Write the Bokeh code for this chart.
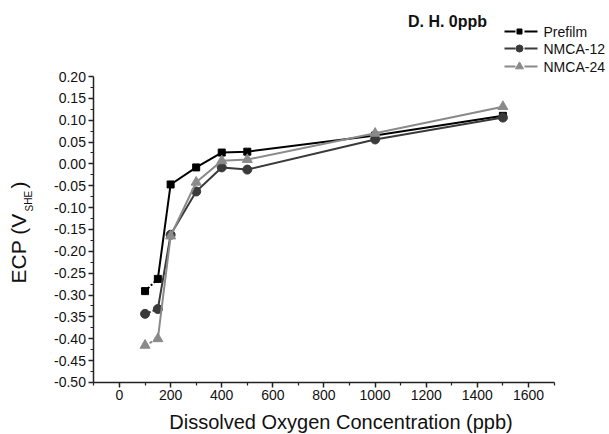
from bokeh.plotting import figure
from bokeh.models import FixedTicker, NumeralTickFormatter, Range1d
from bokeh.core.properties import value
from bokeh.embed import file_html
from bokeh.resources import INLINE

# ---- data ----
do_ppb = [100, 150, 200, 300, 400, 500, 1000, 1500]
prefilm = [-0.291, -0.263, -0.047, -0.008, 0.026, 0.028, 0.065, 0.110]
nmca12 = [-0.343, -0.332, -0.162, -0.063, -0.008, -0.013, 0.056, 0.106]
nmca24 = [-0.415, -0.400, -0.165, -0.042, 0.007, 0.010, 0.070, 0.131]
series_names = ["Prefilm", "NMCA-12", "NMCA-24"]
x_major = [0, 200, 400, 600, 800, 1000, 1200, 1400, 1600]
x_minor = [-100, 100, 300, 500, 700, 900, 1100, 1300, 1500, 1700]
y_major = [-0.50, -0.45, -0.40, -0.35, -0.30, -0.25, -0.20, -0.15, -0.10, -0.05,
           0.00, 0.05, 0.10, 0.15, 0.20]
y_minor = [-0.475, -0.425, -0.375, -0.325, -0.275, -0.225, -0.175, -0.125,
           -0.075, -0.025, 0.025, 0.075, 0.125, 0.175]

FONT = "Liberation Sans"
colors = ["#000000", "#3a3a3a", "#8a8a8a"]
markers = ["square", "circle", "triangle"]
msizes = [7, 9, 10]
dashes = ["2 2", "2 2", "3 2"]

# frame covers the whole canvas; axes are pinned inside it
XS = 0.2556   # px per ppb
YS = 437.1    # px per volt
X0 = 119      # px of x = 0
Y0 = 76       # px of y = 0.20
W, H = 609, 434

p = figure(width=W, height=H, output_backend="svg", toolbar_location=None,
           x_range=Range1d((0 - X0) / XS, (W - X0) / XS),
           y_range=Range1d(0.2 - (H - Y0) / YS, 0.2 + Y0 / YS),
           min_border=0)
p.outline_line_color = None
p.grid.visible = False
p.background_fill_color = "white"
p.border_fill_color = "white"

for vals, c, m, s, d in zip([prefilm, nmca12, nmca24], colors, markers, msizes, dashes):
    p.line(do_ppb[:2], vals[:2], line_color=c, line_width=2, line_dash=d)
    p.line(do_ppb[1:], vals[1:], line_color=c, line_width=2)
    p.scatter(do_ppb, vals, marker=m, size=s, fill_color=c, line_color=c)

# axes
for ax in (p.xaxis[0], p.yaxis[0]):
    ax.axis_line_width = 1.5
    ax.axis_line_color = "#222222"
    ax.major_tick_line_color = "#222222"
    ax.minor_tick_line_color = "#222222"
    ax.major_tick_line_width = 1.5
    ax.minor_tick_line_width = 1.2
    ax.major_tick_out = 5
    ax.major_tick_in = 0
    ax.minor_tick_out = 3
    ax.minor_tick_in = 0
    ax.major_label_text_font = FONT
    ax.major_label_text_font_size = "14px"
    ax.major_label_text_color = "#111111"
    ax.major_label_standoff = 3

p.xaxis[0].ticker = FixedTicker(ticks=x_major, minor_ticks=x_minor)
p.xaxis[0].bounds = (-100, 1700)
p.xaxis[0].fixed_location = -0.5
p.yaxis[0].ticker = FixedTicker(ticks=y_major, minor_ticks=y_minor)
p.yaxis[0].bounds = (-0.5, 0.2)
p.yaxis[0].fixed_location = -100
p.yaxis[0].formatter = NumeralTickFormatter(format="0.00")


# pixel helpers (canvas px -> data coords)
def dx(px):
    return (px - X0) / XS


def dy(py):
    return 0.2 - (py - Y0) / YS


def txt(x, y, t, size, align="left", baseline="middle", angle=0.0, bold=False):
    p.text(x=[dx(x)], y=[dy(y)], text=[t], text_font=value(FONT),
           text_font_size=size, text_align=align, text_baseline=baseline,
           angle=angle, text_font_style="bold" if bold else "normal",
           text_color="#111111")


# axis titles
txt(340.5, 421, "Dissolved Oxygen Concentration (ppb)", "20px", align="center")
txt(18, 283, "ECP (V", "21px", angle=1.5708)
txt(28.5, 211, "SHE", "10px", angle=1.5708)
txt(18, 188, ")", "21px", angle=1.5708)

# title
txt(447, 21, "D. H. 0ppb", "16px", align="center", bold=True)

# legend (manual)
rows_y = [31, 48, 66]
for name, c, m, s, ry in zip(series_names, colors, markers, msizes, rows_y):
    p.line([dx(504), dx(515)], [dy(ry), dy(ry)], line_color=c, line_width=2)
    p.line([dx(524), dx(537)], [dy(ry), dy(ry)], line_color=c, line_width=2)
    p.scatter([dx(519)], [dy(ry)], marker=m, size=s - 2, fill_color=c, line_color=c)
    txt(543, ry, name, "14px")

open("out.html", "w").write(file_html(p, INLINE))
